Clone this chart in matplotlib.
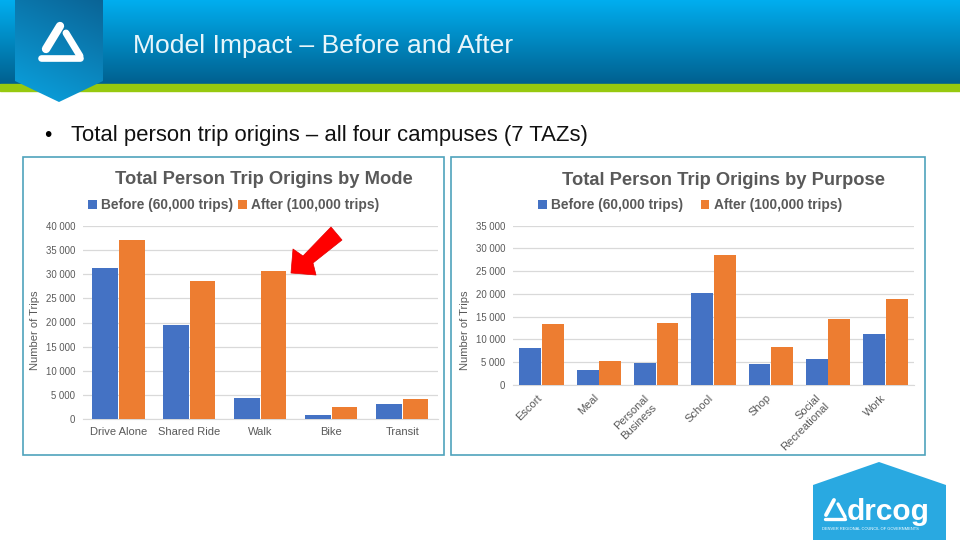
import numpy as np
import matplotlib
matplotlib.use("Agg")
import matplotlib.pyplot as plt
from matplotlib.patches import Polygon, Rectangle
from matplotlib.transforms import ScaledTranslation

plt.rcParams['font.family'] = ['Liberation Sans', 'DejaVu Sans']

# データ
series_names = ["Before (60,000 trips)", "After (100,000 trips)"]
modes = ["Drive Alone", "Shared Ride", "Walk", "Bike", "Transit"]
mode_before = [31300, 19500, 4300, 800, 3100]
mode_after = [37100, 28600, 30700, 2600, 4100]
purposes = ["Escort", "Meal", "Personal\nBusiness", "School", "Shop",
            "Social\nRecreational", "Work"]
purpose_before = [8200, 3300, 4900, 20300, 4700, 5800, 11200]
purpose_after = [13500, 5300, 13700, 28600, 8400, 14600, 18800]
mode_ticks = [0, 5000, 10000, 15000, 20000, 25000, 30000, 35000, 40000]
purpose_ticks = [0, 5000, 10000, 15000, 20000, 25000, 30000, 35000]

BLUE = "#4472C4"
ORANGE = "#ED7D31"
GREY = "#595959"
FRAME = "#4FA3BC"

fig = plt.figure(figsize=(9.6, 5.4), dpi=100, facecolor="white")

# 背景 (pixel coordinates)
bg = fig.add_axes([0, 0, 1, 1])
bg.set_xlim(0, 960)
bg.set_ylim(540, 0)
bg.axis("off")


def gradient(top, bottom, extent, clip=None, zorder=1, tilt=0.0):
    c0 = np.array(matplotlib.colors.to_rgb(top))
    c1 = np.array(matplotlib.colors.to_rgb(bottom))
    yy, xx = np.mgrid[0:1:128j, 0:1:128j]
    t = (yy * (1 - tilt) + (1 - xx) * tilt)[:, :, None]
    im = bg.imshow(c0 + (c1 - c0) * t, extent=extent, aspect="auto", zorder=zorder)
    if clip is not None:
        im.set_clip_path(clip)
    return im


def logo(pts, lws, color="white", zorder=5):
    for (a, b), lw in zip(pts, lws):
        bg.plot([a[0], b[0]], [a[1], b[1]], color=color, lw=lw,
                solid_capstyle="round", zorder=zorder)


gradient("#00AEEF", "#00608F", (0, 960, 84, 0))
bg.add_patch(Rectangle((0, 84), 960, 7, color="#97C90F", zorder=2))

badge = Polygon([(15, 0), (103, 0), (103, 81), (59, 102), (15, 81)],
                closed=True, transform=bg.transData, fc="none", ec="none")
bg.add_patch(badge)
gradient("#0A6496", "#0BA3E0", (15, 103, 102, 0), clip=badge, zorder=3, tilt=0.3)
logo([((60, 26), (46, 49)), ((41, 58), (80, 58)), ((66, 33), (80, 56))], [6, 4.8, 5])

bg.text(133, 46.5, "Model Impact – Before and After", fontsize=19.05, color="#E8F6FB",
        va="center", ha="left", zorder=5)
bg.text(44, 135.5, "•", fontsize=15, color="black", va="center", ha="left")
bg.text(71, 135.5, "Total person trip origins – all four campuses (7 TAZs)", fontsize=15.9,
        color="#111111", va="center", ha="left")

bg.add_patch(Rectangle((22.5, 156.5), 421, 298, fc="white", ec=FRAME, lw=1.2))
bg.add_patch(Rectangle((450.5, 156.5), 474, 298, fc="white", ec=FRAME, lw=1.2))

# adrcog
bg.add_patch(Polygon([(879, 462), (946, 485), (946, 540), (813, 540), (813, 485)],
                     closed=True, fc="#29A9E1", ec="none"))
logo([((834, 500), (826, 515)), ((825, 519), (845, 519)), ((838, 504), (845, 517))], [2.8, 2.4, 2.4])
bg.text(847, 519.5, "drcog", fontsize=21.5, fontweight="bold", color="white",
        va="baseline", ha="left")
bg.text(822, 528.5, "DENVER REGIONAL COUNCIL OF GOVERNMENTS", fontsize=2.9, color="white",
        va="center", ha="left")


def bar_panel(box, cats, before, after, ticks, ymax, width, legend_x, legend_gap, rot=None, shifts=None):
    x0, x1, y_top, y_bot = box
    ax = fig.add_axes([x0 / 960, 1 - y_bot / 540, (x1 - x0) / 960, (y_bot - y_top) / 540])
    ax.patch.set_alpha(0)
    pos = np.arange(len(cats)) + 0.5
    b1 = ax.bar(pos - width / 2 - 0.007, before, width, color=BLUE, zorder=3)
    b2 = ax.bar(pos + width / 2 + 0.007, after, width, color=ORANGE, zorder=3)
    ax.set_xlim(0, len(cats))
    ax.set_ylim(0, ymax)
    ax.set_yticks(ticks)
    ax.set_yticklabels([f"{t:,}".replace(",", " ") for t in ticks], fontsize=6.9, color=GREY)
    ax.yaxis.grid(True, color="#D9D9D9", lw=0.9, zorder=0)
    ax.set_axisbelow(True)
    ax.tick_params(axis="both", length=0, pad=5.5)
    ax.set_xticks(pos)
    if rot:
        labels = ax.set_xticklabels(cats, fontsize=8, color=GREY, rotation=rot, ha="right",
                                    rotation_mode="anchor", linespacing=1.25)
        # 回転ラベルの位置調整
        for lab, (dx, dy) in zip(labels, shifts):
            lab.set_transform(lab.get_transform() + ScaledTranslation(dx / 100, -dy / 100, fig.dpi_scale_trans))
    else:
        ax.set_xticklabels(cats, fontsize=8, color=GREY)
    for s in ["top", "left", "right"]:
        ax.spines[s].set_visible(False)
    ax.spines["bottom"].set_color("#D9D9D9")
    ax.set_ylabel("Number of Trips", fontsize=8, color=GREY)
    ax.yaxis.set_label_coords(-43.5 / (x1 - x0), (y_bot - 330) / (y_bot - y_top))
    leg = ax.legend([b1, b2], series_names, loc="center left", ncol=2, frameon=False,
                    bbox_to_anchor=((legend_x - x0) / (x1 - x0), (y_bot - 205.5) / (y_bot - y_top)),
                    borderpad=0, borderaxespad=0, handlelength=0.62, handleheight=0.62,
                    handletextpad=0.35, columnspacing=legend_gap,
                    prop={"size": 9.9, "weight": "bold"})
    for t in leg.get_texts():
        t.set_color(GREY)
    return ax


# 棒グラフ
ax1 = bar_panel((83, 437.7, 225.7, 419.3), modes, mode_before, mode_after, mode_ticks,
                40000, 0.36, 88, 0.35)
ax2 = bar_panel((513, 914, 225.7, 385), purposes, purpose_before, purpose_after, purpose_ticks,
                35000, 0.38, 538, 1.25, rot=45,
                shifts=[(-5, 0), (-5, 0), (-13, 1), (-5, 0), (-5, 0), (-13, 0), (-5, 0)])

bg.text(264, 179.5, "Total Person Trip Origins by Mode", fontsize=13.2, fontweight="bold",
        color=GREY, va="center", ha="center")
bg.text(723, 180.5, "Total Person Trip Origins by Purpose", fontsize=13.2, fontweight="bold",
        color=GREY, va="center", ha="center")

# 矢印
top = fig.add_axes([0, 0, 1, 1])
top.set_xlim(0, 960)
top.set_ylim(540, 0)
top.axis("off")
top.patch.set_alpha(0)
top.add_patch(Polygon([(291, 273), (293, 249), (303, 256), (331, 227), (342, 240),
                       (313, 263), (316, 275)], closed=True, fc="#FF0000", ec="#E00000",
                      lw=0.5, joinstyle="round"))

plt.savefig("out.png", dpi=100)
plt.close()
